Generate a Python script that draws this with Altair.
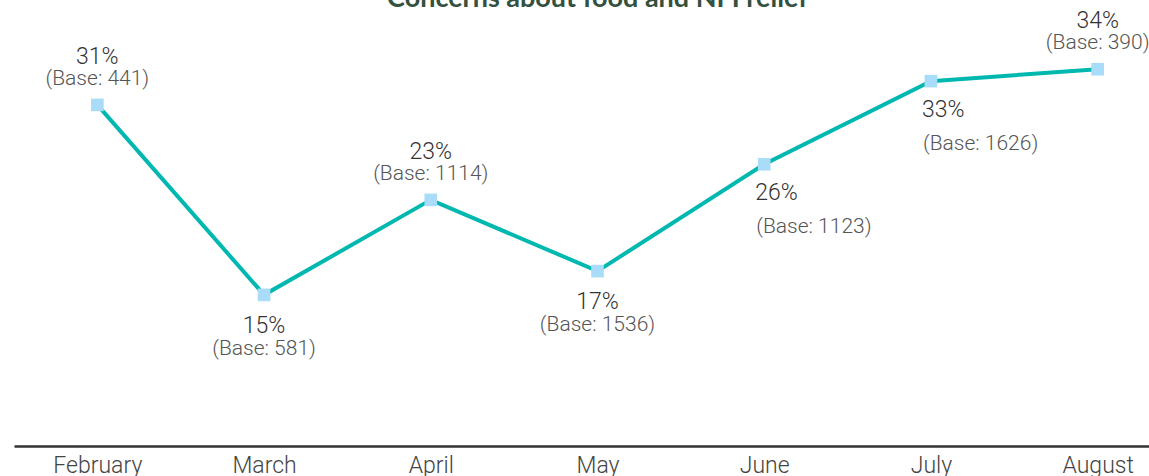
import altair as alt
import pandas as pd

months = ["February", "March", "April", "May", "June", "July", "August"]
values = [31, 15, 23, 17, 26, 33, 34]
bases = [441, 581, 1114, 1536, 1123, 1626, 390]
label_side = ["above", "below", "above", "below", "below_wide", "below_wide", "above"]
title_text = "Concerns about food and NFI relief"

df = pd.DataFrame({
    "month": months,
    "value": values,
    "base": bases,
    "side": label_side,
})
df["pct"] = df["value"].astype(str) + "%"
df["base_txt"] = "(Base: " + df["base"].astype(str) + ")"

W = 1135
x = alt.X("month:N", sort=months,
          scale=alt.Scale(type="point", padding=0.5, range=[0, 1167]),
          axis=alt.Axis(title=None, labelAngle=0, ticks=False, grid=False,
                        domain=True, domainColor="#333333", domainWidth=2.5,
                        labelFont="Roboto", labelFontWeight=300, labelFontSize=23,
                        labelColor="#444444", labelPadding=8))
y = alt.Y("value:Q", scale=alt.Scale(domain=[2.27, 38.15], zero=False, nice=False),
          axis=None)

base = alt.Chart(df).encode(x=x, y=y)

line = base.mark_line(color="#00b8b0", strokeWidth=4)
pts = base.mark_square(size=160, color="#a9dcf8", filled=True, opacity=1)

def txt(side, field, dy, size, color, align="center", dx=0):
    return base.transform_filter(alt.datum.side == side).mark_text(
        dy=dy, dx=dx, font="Roboto", fontWeight=300, fontSize=size, color=color,
        baseline="middle", align=align
    ).encode(text=f"{field}:N")

pct_color = "#333333"
base_color = "#555555"
layers = [line, pts,
    txt("above", "pct", -48, 23, pct_color),
    txt("above", "base_txt", -26, 21, base_color),
    txt("below", "pct", 31, 23, pct_color),
    txt("below", "base_txt", 54, 21, base_color),
    txt("below_wide", "pct", 29, 23, pct_color, align="left", dx=-9),
    txt("below_wide", "base_txt", 63, 21, base_color, align="left", dx=-8),
]

title = alt.Chart(pd.DataFrame({"t": [title_text]})).mark_text(
    font="Lato", fontWeight="bold", fontSize=27, color="#34513f",
    baseline="alphabetic", align="center"
).encode(x=alt.value(583.5), y=alt.value(-13), text="t:N")
layers.append(title)

chart = alt.layer(*layers).properties(
    width=W, height=426,
    autosize=alt.AutoSizeParams(type="none"),
    padding={"left": 14, "top": 20, "right": 0, "bottom": 30},
).configure_view(stroke=None)

chart.save("out.html", embed_options={"renderer": "svg", "actions": False})
